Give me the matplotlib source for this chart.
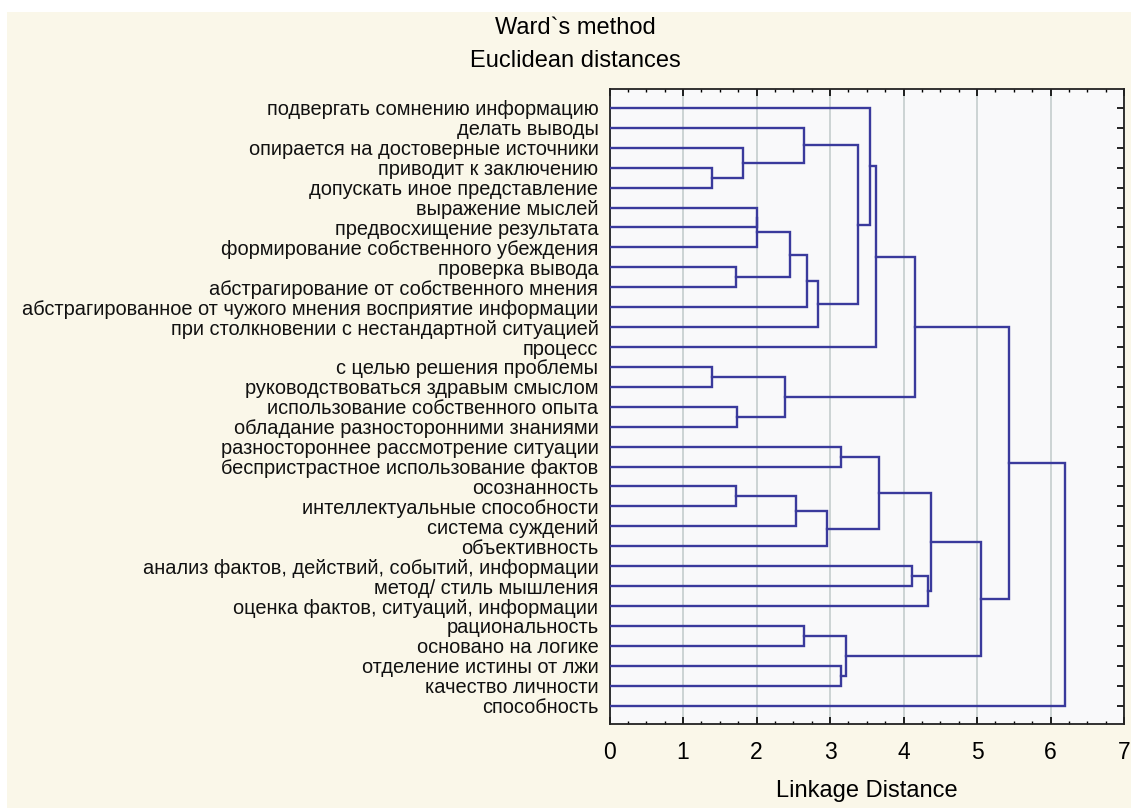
import matplotlib
matplotlib.use("Agg")
import matplotlib.pyplot as plt
from matplotlib.patches import Rectangle
from matplotlib.ticker import MultipleLocator

plt.rcParams['font.family'] = ['Liberation Sans', 'DejaVu Sans']

# Подписи листьев (сверху вниз, в порядке дендрограммы)
labels = [
    "подвергать сомнению информацию",
    "делать выводы",
    "опирается на достоверные источники",
    "приводит к заключению",
    "допускать иное представление",
    "выражение мыслей",
    "предвосхищение результата",
    "формирование собственного убеждения",
    "проверка вывода",
    "абстрагирование от собственного мнения",
    "абстрагированное от чужого мнения восприятие информации",
    "при столкновении с нестандартной ситуацией",
    "процесс",
    "с целью решения проблемы",
    "руководствоваться здравым смыслом",
    "использование собственного опыта",
    "обладание разносторонними знаниями",
    "разностороннее рассмотрение ситуации",
    "беспристрастное использование фактов",
    "осознанность",
    "интеллектуальные способности",
    "система суждений",
    "объективность",
    "анализ фактов, действий, событий, информации",
    "метод/ стиль мышления",
    "оценка фактов, ситуаций, информации",
    "рациональность",
    "основано на логике",
    "отделение истины от лжи",
    "качество личности",
    "способность",
]

# Объединения: кластер a + кластер b на расстоянии h (новый кластер = 31, 32, ...)
merge_a = [3, 13, 8, 15, 19, 2, 5, 37, 32, 38, 21, 1, 26, 40, 11, 22, 17, 28, 43, 42,
           0, 51, 47, 23, 52, 54, 53, 57, 55, 59]
merge_b = [4, 14, 9, 16, 20, 31, 6, 7, 34, 33, 35, 36, 27, 10, 44, 41, 18, 29, 48, 45,
           50, 12, 46, 24, 39, 25, 56, 49, 58, 30]
merge_h = [1.40, 1.40, 1.72, 1.73, 1.72, 1.82, 2.00, 2.01, 2.39, 2.45, 2.54, 2.64, 2.64,
           2.69, 2.84, 2.96, 3.15, 3.15, 3.22, 3.38, 3.55, 3.63, 3.66, 4.12, 4.15, 4.34,
           4.37, 5.06, 5.43, 6.20]

cream = "#faf7e9"
line_color = "#3a3a9c"

fig = plt.figure(figsize=(11.31, 8.1), dpi=100, facecolor="white")
fig.patches.append(Rectangle((7 / 1131, 2 / 810), 1 - 7 / 1131, (810 - 14) / 810,
                             transform=fig.transFigure, facecolor=cream,
                             edgecolor="none", zorder=-10))

ax = fig.add_axes([609.5 / 1131, 1 - 724 / 810, (1124 - 609.5) / 1131, (724 - 89) / 810])
ax.set_facecolor("#f9f9fa")

n = len(labels)
pos = {i: float(i) for i in range(n)}
hgt = {i: 0.0 for i in range(n)}

for k, (a, b, h) in enumerate(zip(merge_a, merge_b, merge_h)):
    ax.plot([hgt[a], h, h, hgt[b]], [pos[a], pos[a], pos[b], pos[b]],
            color=line_color, lw=1.7, solid_joinstyle="miter", zorder=3)
    pos[n + k] = (pos[a] + pos[b]) / 2
    hgt[n + k] = h

ax.set_xlim(0, 7)
ax.set_ylim(n - 1 + 0.92, -0.95)

ax.set_yticks(range(n))
ax.set_yticklabels(labels, fontsize=14.4, color="#111111")
ax.tick_params(axis="y", left=False, right=True, direction="in", length=5,
               width=1.2, pad=8)

ax.set_xticks(range(8))
ax.xaxis.set_minor_locator(MultipleLocator(0.25))
ax.tick_params(axis="x", which="major", top=True, direction="in", length=5,
               width=1.2, labelsize=16.5, pad=12)
ax.tick_params(axis="x", which="minor", top=True, direction="in", length=2.5, width=1)

ax.grid(axis="x", which="major", color="#c5cdcd", lw=1.2)
ax.set_axisbelow(True)

for s in ax.spines.values():
    s.set_linewidth(1.3)
    s.set_color("#222222")

ax.set_xlabel("Linkage Distance", fontsize=17, labelpad=12)

fig.text(575 / 1131, 1 - 28 / 810, "Ward`s method", ha="center", va="center", fontsize=17)
fig.text(575 / 1131, 1 - 61 / 810, "Euclidean distances", ha="center", va="center", fontsize=17)

fig.savefig("out.png", dpi=100, facecolor=fig.get_facecolor())
